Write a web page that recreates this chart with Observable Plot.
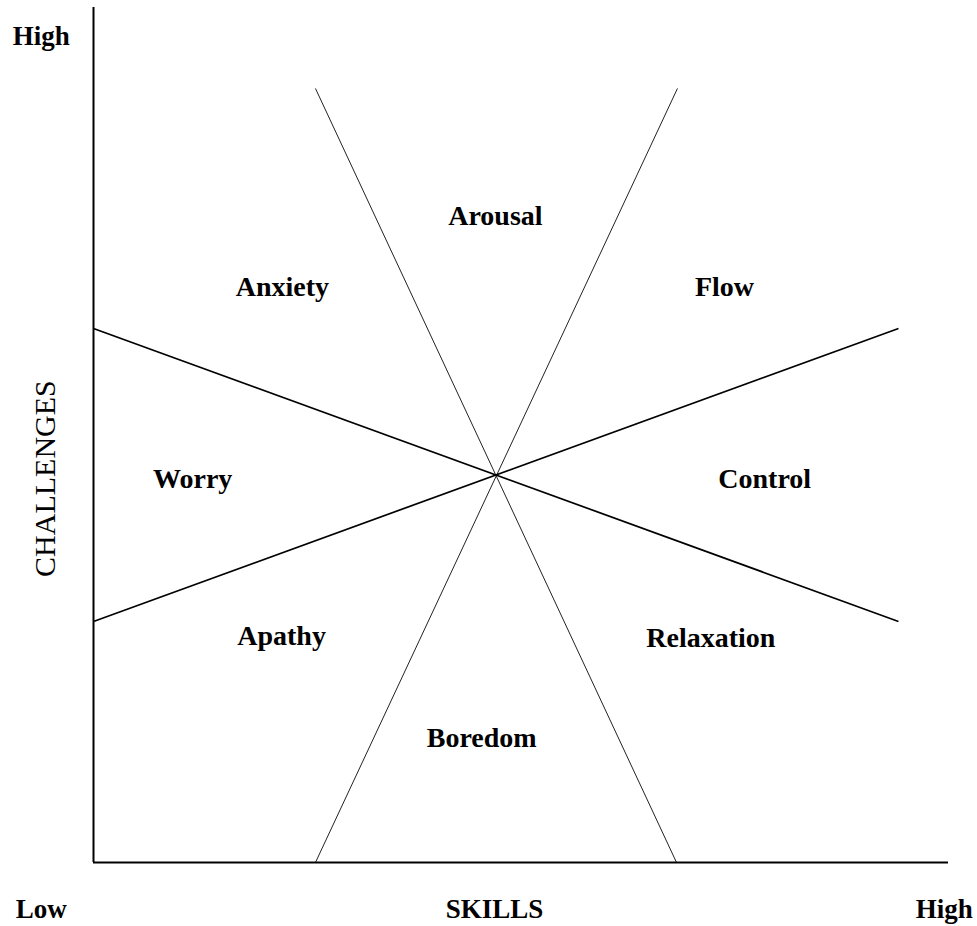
<!DOCTYPE html>
<html>
<head>
<meta charset="utf-8">
<script src="https://cdn.jsdelivr.net/npm/d3@7"></script>
<script src="https://cdn.jsdelivr.net/npm/@observablehq/plot@0.6"></script>
<style>
  html, body { margin: 0; padding: 0; background: #fff; }
  #chart svg { display: block; }
</style>
</head>
<body>
<div id="chart"></div>
<script>
// Region labels and their positions (skills on x, challenges on y, 0–10 units)
const regionNames = ["Arousal", "Anxiety", "Flow", "Worry", "Control", "Apathy", "Relaxation", "Boredom"];
const regionX =     [4.70,      2.21,      7.38,   1.16,    7.85,      2.20,     7.22,         4.54];
const regionY =     [7.56,      6.73,      6.73,   4.49,    4.49,      2.65,     2.63,         1.46];

// Dividing lines through the centre (x1, y1) -> (x2, y2)
const steepX1 = [2.596, 6.830];
const steepY1 = [9.053, 9.053];
const steepX2 = [6.819, 2.596];
const steepY2 = [0, 0];

const shallowX1 = [0, 0];
const shallowY1 = [6.246, 2.819];
const shallowX2 = [9.415, 9.415];
const shallowY2 = [2.819, 6.246];

// Axis end labels
const axisLabels = ["High", "Low", "SKILLS", "High"];
const axisLabelX = [-0.61, -0.61, 4.69, 9.95];
const axisLabelY = [9.66, -0.55, -0.55, -0.55];
const yTitle = "CHALLENGES";

const steep = steepX1.map((d, i) => ({x1: d, y1: steepY1[i], x2: steepX2[i], y2: steepY2[i]}));
const shallow = shallowX1.map((d, i) => ({x1: d, y1: shallowY1[i], x2: shallowX2[i], y2: shallowY2[i]}));
const regions = regionNames.map((n, i) => ({name: n, x: regionX[i], y: regionY[i]}));
const ends = axisLabels.map((n, i) => ({name: n, x: axisLabelX[i], y: axisLabelY[i]}));

const font = "'Liberation Serif', 'Times New Roman', serif";

const chart = Plot.plot({
  width: 977,
  height: 926,
  marginLeft: 93,
  marginRight: 29,
  marginTop: 7,
  marginBottom: 64,
  x: {domain: [0, 10], axis: null},
  y: {domain: [0, 10], axis: null},
  style: {fontFamily: font, background: "#fff"},
  marks: [
    Plot.link(steep, {x1: "x1", y1: "y1", x2: "x2", y2: "y2", stroke: "#222", strokeWidth: 1}),
    Plot.link(shallow, {x1: "x1", y1: "y1", x2: "x2", y2: "y2", stroke: "#000", strokeWidth: 1.7}),
    Plot.ruleX([0], {y1: 0, y2: 10, stroke: "#000", strokeWidth: 2}),
    Plot.ruleY([0], {x1: 0, x2: 10, stroke: "#000", strokeWidth: 2}),
    Plot.text(regions, {x: "x", y: "y", text: "name", fontSize: 28, fontWeight: "bold", fill: "#000", textAnchor: "middle", lineAnchor: "middle"}),
    Plot.text(ends, {x: "x", y: "y", text: "name", fontSize: 27, fontWeight: "bold", fill: "#000", textAnchor: "middle", lineAnchor: "middle", clip: false}),
    Plot.text([yTitle], {x: -0.56, y: 4.49, text: d => d, rotate: -90, fontSize: 30, fill: "#000", textAnchor: "middle", lineAnchor: "middle", clip: false})
  ]
});
document.getElementById("chart").appendChild(chart);
</script>
</body>
</html>
